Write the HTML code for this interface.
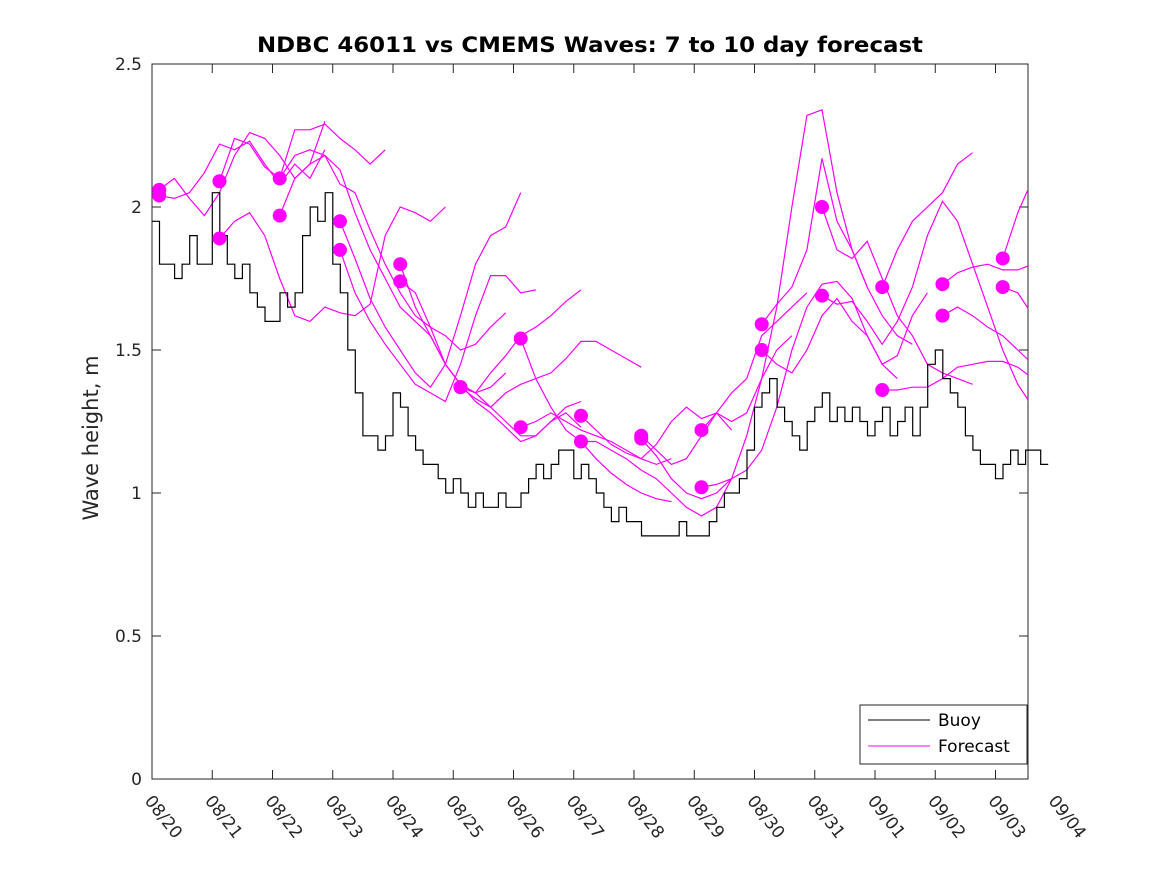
<!DOCTYPE html>
<html><head><meta charset="utf-8"><style>
body{margin:0;background:#fff;}
svg{display:block;font-family:"DejaVu Sans","Liberation Sans",sans-serif;}
</style></head><body>
<svg id="chart" width="1167" height="875"></svg>
<script>
const xTickLabels=["08/20","08/21","08/22","08/23","08/24","08/25","08/26","08/27","08/28","08/29","08/30","08/31","09/01","09/02","09/03","09/04"];
const yTicks=[0,0.5,1,1.5,2,2.5];
// buoy values, 3-hour steps from 08/20
const buoy=[1.95,1.8,1.8,1.75,1.8,1.9,1.8,1.8,
2.05,1.9,1.8,1.75,1.8,1.7,1.65,1.6,
1.6,1.7,1.65,1.7,1.9,2.0,1.95,2.05,
1.8,1.7,1.5,1.35,1.2,1.2,1.15,1.2,
1.35,1.3,1.2,1.15,1.1,1.1,1.05,1.0,
1.05,1.0,0.95,1.0,0.95,0.95,1.0,0.95,
0.95,1.0,1.05,1.1,1.05,1.1,1.15,1.15,
1.05,1.1,1.05,1.0,0.95,0.9,0.95,0.9,
0.9,0.85,0.85,0.85,0.85,0.85,0.9,0.85,
0.85,0.85,0.9,0.95,1.0,1.0,1.05,1.15,
1.3,1.35,1.4,1.3,1.25,1.2,1.15,1.25,
1.3,1.35,1.25,1.3,1.25,1.3,1.25,1.2,
1.25,1.3,1.2,1.25,1.3,1.2,1.3,1.45,
1.5,1.4,1.35,1.3,1.2,1.15,1.1,1.1,
1.05,1.1,1.15,1.1,1.15,1.15,1.1];
// forecast runs: start day and 6-hourly values
const fcStarts=[0.12,0.12,1.12,1.12,2.12,2.12,3.12,3.12,4.12,4.12,5.12,5.12,6.12,6.12,7.12,7.12,8.12,8.12,9.12,9.12,10.12,10.12,11.12,11.12,12.12,12.12,13.12,13.12,14.12,14.12];
const fcValues=[
[2.06,2.10,2.03,1.97,2.05,2.18,2.26,2.24,2.18,2.10,2.15,2.30],
[2.04,2.03,2.05,2.12,2.22,2.20,2.23,2.15,2.08,2.15,2.10,2.20],
[1.89,1.95,1.98,1.90,1.75,1.62,1.60,1.65,1.63,1.62,1.66,1.90,2.00,1.98,1.95,2.00],
[2.09,2.24,2.22,2.14,2.10,2.27,2.27,2.29,2.24,2.20,2.15,2.20],
[2.10,2.18,2.20,2.18,2.08,2.05,1.92,1.80,1.70,1.62,1.58,1.55,1.50,1.52,1.58,1.63],
[1.97,2.10,2.15,2.18,2.13,1.98,1.85,1.75,1.65,1.60,1.55,1.45,1.38,1.35,1.37,1.42],
[1.95,1.82,1.68,1.58,1.50,1.42,1.37,1.45,1.62,1.80,1.90,1.93,2.05],
[1.85,1.70,1.60,1.52,1.45,1.38,1.35,1.32,1.45,1.62,1.76,1.76,1.70,1.71],
[1.80,1.65,1.55,1.45,1.38,1.35,1.30,1.25,1.20,1.20,1.25,1.28,1.23],
[1.74,1.70,1.58,1.45,1.38,1.32,1.28,1.23,1.18,1.20,1.25,1.30,1.32],
[1.37,1.35,1.42,1.48,1.55,1.58,1.62,1.67,1.71],
[1.37,1.33,1.30,1.35,1.38,1.40,1.42,1.47,1.53,1.53,1.50,1.47,1.44],
[1.54,1.40,1.30,1.22,1.18,1.12,1.07,1.03,1.00,0.98,0.97],
[1.23,1.25,1.28,1.25,1.22,1.20,1.18,1.15,1.12,1.10,1.12],
[1.27,1.22,1.17,1.14,1.12,1.17,1.25,1.30,1.26,1.28,1.22],
[1.18,1.18,1.15,1.12,1.08,1.05,1.00,0.95,0.92,0.95,1.05],
[1.20,1.15,1.10,1.12,1.20,1.28,1.35,1.40,1.55,1.60,1.65,1.70],
[1.19,1.13,1.05,1.00,0.98,1.00,1.05,1.20,1.40,1.50,1.55],
[1.22,1.28,1.25,1.28,1.40,1.65,2.00,2.32,2.34,2.05,1.85,1.72],
[1.02,1.03,1.05,1.08,1.15,1.30,1.50,1.65,1.73,1.74,1.68,1.55,1.45,1.40],
[1.59,1.66,1.72,1.85,2.17,1.95,1.85,1.72,1.62,1.55,1.52],
[1.50,1.45,1.42,1.50,1.62,1.68,1.60,1.55,1.45,1.48,1.62,1.70],
[2.00,1.85,1.82,1.88,1.75,1.62,1.55,1.45,1.42,1.40,1.38],
[1.69,1.66,1.67,1.60,1.52,1.60,1.72,1.90,2.02,1.95,1.80,1.65,1.50,1.38,1.30],
[1.72,1.85,1.95,2.00,2.05,2.15,2.19],
[1.36,1.36,1.37,1.37,1.40,1.44,1.45,1.46,1.46,1.44,1.40,1.38,1.37],
[1.73,1.77,1.79,1.80,1.78,1.78,1.80],
[1.62,1.65,1.62,1.58,1.55,1.50,1.45,1.42],
[1.82,1.98,2.10,2.14,2.08,2.08],
[1.72,1.70,1.62,1.55,1.50,1.48]
];
const NS="http://www.w3.org/2000/svg";
const svg=document.getElementById('chart');
const L=152,R=1028,T=64,B=779,DAY=60.25;
const xs=d=>L+d*DAY;
const ys=v=>B-v*(B-T)/2.5;
function mk(tag,attrs,parent){const e=document.createElementNS(NS,tag);for(const k in attrs)e.setAttribute(k,attrs[k]);(parent||svg).appendChild(e);return e;}
const defs=mk('defs',{});
const cp=mk('clipPath',{id:'clip'},defs);
mk('rect',{x:L,y:T,width:R-L,height:B-T},cp);
const frame=mk('rect',{x:L,y:T,width:R-L,height:B-T,fill:'#fff',stroke:'#262626','stroke-width':1});


yTicks.forEach(v=>{
 const y=ys(v);
 mk('line',{x1:L,x2:L+9,y1:y,y2:y,stroke:'#262626'});
 mk('line',{x1:R,x2:R-9,y1:y,y2:y,stroke:'#262626'});
 const t=mk('text',{x:L-10,y:y+6,'text-anchor':'end','font-size':17,fill:'#262626'});
 t.textContent=String(v);
 
 
});
xTickLabels.forEach((s,i)=>{
 const x=xs(i);
 if(x<=R){
 mk('line',{x1:x,x2:x,y1:B,y2:B-9,stroke:'#262626'});
 mk('line',{x1:x,x2:x,y1:T,y2:T+9,stroke:'#262626'});
 }
 const t=mk('text',{x:0,y:0,'font-size':17,fill:'#262626',transform:`translate(${x-8},${B+22}) rotate(52)`});
 t.textContent=s;
 
 
});
const fg=mk('g',{'clip-path':'url(#clip)'});
fcValues.forEach((vals,i)=>{
 const d=vals.map((v,j)=>(j?'L':'M')+xs(fcStarts[i]+j*0.25).toFixed(1)+','+ys(v).toFixed(1)).join('');
 const p=mk('path',{d,fill:'none',stroke:'#ff00ff','stroke-width':1.2},fg);
 
 
});
let bd='';
buoy.forEach((v,j)=>{const x=xs(j*0.125),x2=xs((j+1)*0.125),y=ys(v);bd+=(j?'L':'M')+x.toFixed(1)+','+y.toFixed(1)+'L'+x2.toFixed(1)+','+y.toFixed(1);});
const bp=mk('path',{d:bd,fill:'none',stroke:'#000','stroke-width':1.2});


fcValues.forEach((vals,i)=>{
 const c=mk('circle',{cx:xs(fcStarts[i]),cy:ys(vals[0]),r:7,fill:'#ff00ff'});
 
 
});
const title=mk('text',{x:(L+R)/2,y:52,'text-anchor':'middle','font-size':21,'font-weight':'bold',fill:'#000',textLength:666,lengthAdjust:'spacingAndGlyphs'});
title.textContent='NDBC 46011 vs CMEMS Waves: 7 to 10 day forecast';


const yl=mk('text',{x:0,y:0,'text-anchor':'middle','font-size':21,fill:'#262626',transform:`translate(98,438) rotate(-90)`});
yl.textContent='Wave height, m';


const lg=mk('g',{});


mk('rect',{x:860,y:705,width:167,height:59,fill:'#fff',stroke:'#262626'},lg);
mk('line',{x1:868,x2:930,y1:720,y2:720,stroke:'#000'},lg);
mk('line',{x1:868,x2:930,y1:746,y2:746,stroke:'#ff00ff'},lg);
const t1=mk('text',{x:938,y:726,'font-size':17,fill:'#000'},lg);t1.textContent='Buoy';


const t2=mk('text',{x:938,y:752,'font-size':17,fill:'#000'},lg);t2.textContent='Forecast';


</script>
</body></html>
